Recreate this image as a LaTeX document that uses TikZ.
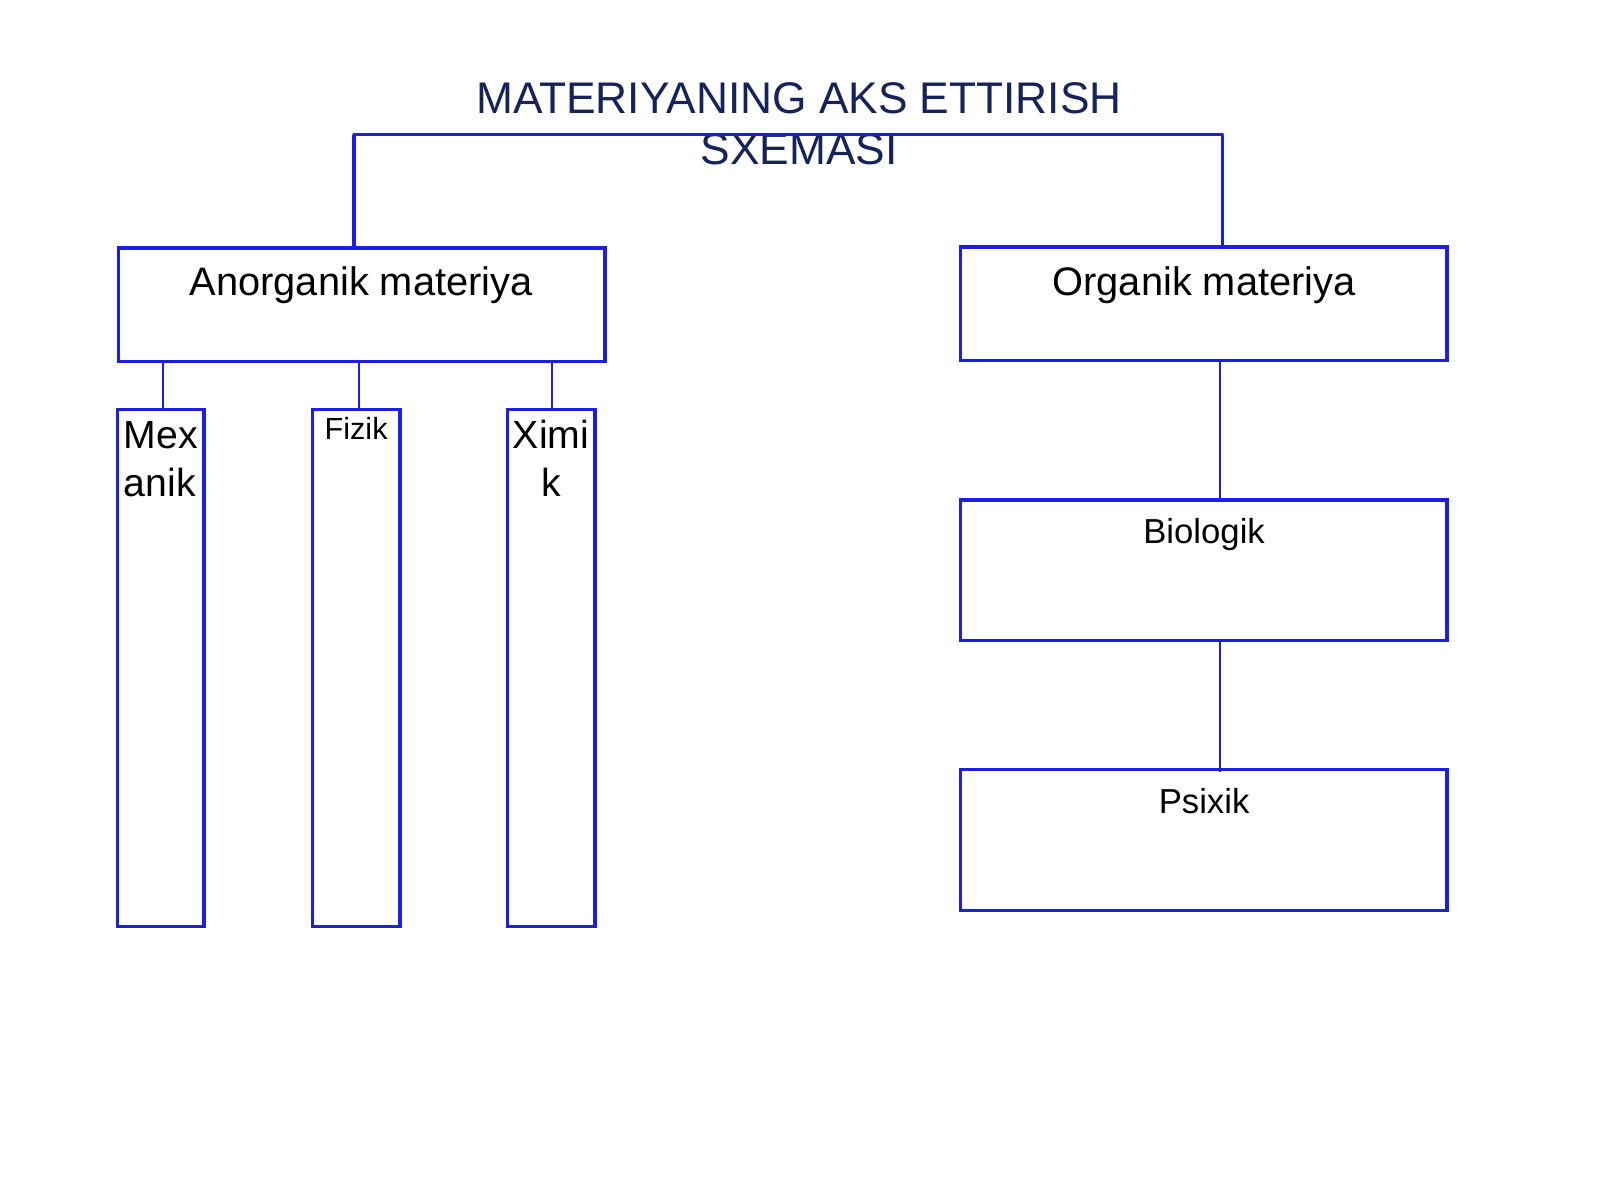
\documentclass[tikz,border=0pt]{standalone}
\usepackage{fontspec}
\setmainfont{Liberation Sans}
\definecolor{lineblue}{RGB}{28,28,235}
\definecolor{titlenavy}{RGB}{22,34,92}
\begin{document}
\begin{tikzpicture}[x=0.5pt,y=-0.5pt,
  box/.style={draw=lineblue, line width=1.6pt, rectangle, inner sep=0pt},
  wire/.style={draw=lineblue, line width=1pt},
  bracket/.style={draw=lineblue, line width=1.6pt},
  lbl/.style={inner sep=0pt, text=black}]
\fill[white] (0,0) rectangle (1568,1176);
\useasboundingbox (0,0) rectangle (1568,1176);
% title
\node[lbl, text=titlenavy, anchor=base, font=\fontsize{21.7}{25}\selectfont] (t1) at (783,111) {MATERIYANING AKS ETTIRISH};
\node[lbl, text=titlenavy, anchor=base, font=\fontsize{21.7}{25}\selectfont] (t2) at (783,161) {SXEMASI};
% boxes
\node[box, minimum width=238.5pt, minimum height=55.5pt] (anorg) at (354.5,298.5) {};
\node[box, minimum width=238.5pt, minimum height=55.5pt] (org) at (1179.5,297.5) {};
\node[box, minimum width=238.5pt, minimum height=69pt] (bio) at (1179.5,559) {};
\node[box, minimum width=238.5pt, minimum height=69pt] (psi) at (1179.5,823) {};
\node[box, minimum width=42.5pt, minimum height=253.5pt] (mex) at (157.5,654.5) {};
\node[box, minimum width=43pt, minimum height=253.5pt] (fiz) at (349,654.5) {};
\node[box, minimum width=43pt, minimum height=253.5pt] (xim) at (540,654.5) {};
% labels
\node[lbl, anchor=base, font=\fontsize{19.5}{23}\selectfont] (anorgl) at (354,290) {Anorganik materiya};
\node[lbl, anchor=base, font=\fontsize{19.5}{23}\selectfont] (orgl) at (1180,290) {Organik materiya};
\node[lbl, anchor=base, font=\fontsize{17}{20}\selectfont] (biol) at (1180,533) {Biologik};
\node[lbl, anchor=base, font=\fontsize{17}{20}\selectfont] (psil) at (1180,797) {Psixik};
\node[lbl, anchor=base, font=\fontsize{15}{18}\selectfont] (fizl) at (349,431) {Fizik};
\node[lbl, anchor=base west, font=\fontsize{19.2}{23.5}\selectfont] (mexl1) at (121,440) {Mex};
\node[lbl, anchor=base west, font=\fontsize{19.2}{23.5}\selectfont] (mexl2) at (121,487) {anik};
\node[lbl, anchor=base, font=\fontsize{19.2}{23.5}\selectfont] (ximl1) at (540,440) {Ximi};
\node[lbl, anchor=base, font=\fontsize{19.2}{23.5}\selectfont] (ximl2) at (540,487) {k};
% bracket
\coordinate (tl) at (346,132);
\coordinate (tr) at (1199,132);
\coordinate (al) at ([xshift=-3.75pt]anorg.north);
\coordinate (orr) at ([xshift=9.25pt]org.north);
\draw[bracket] (al) -- (al |- tl) -- (tl) -- (tr) -- (orr |- tr) -- (orr);
% connectors
\coordinate (c1) at ([xshift=1.25pt]mex.north);
\coordinate (c2) at ([xshift=1.5pt]fiz.north);
\coordinate (c3) at ([xshift=0.5pt]xim.north);
\coordinate (c4) at ([xshift=8.25pt]org.south);
\coordinate (c5) at ([xshift=8.25pt]bio.south);
\draw[wire] (c1 |- anorg.south) -- (c1);
\draw[wire] (c2 |- anorg.south) -- (c2);
\draw[wire] (c3 |- anorg.south) -- (c3);
\draw[wire] (c4) -- (c4 |- bio.north);
\draw[wire] (c5) -- ([yshift=-2pt]c5 |- psi.north);
\end{tikzpicture}
\end{document}
